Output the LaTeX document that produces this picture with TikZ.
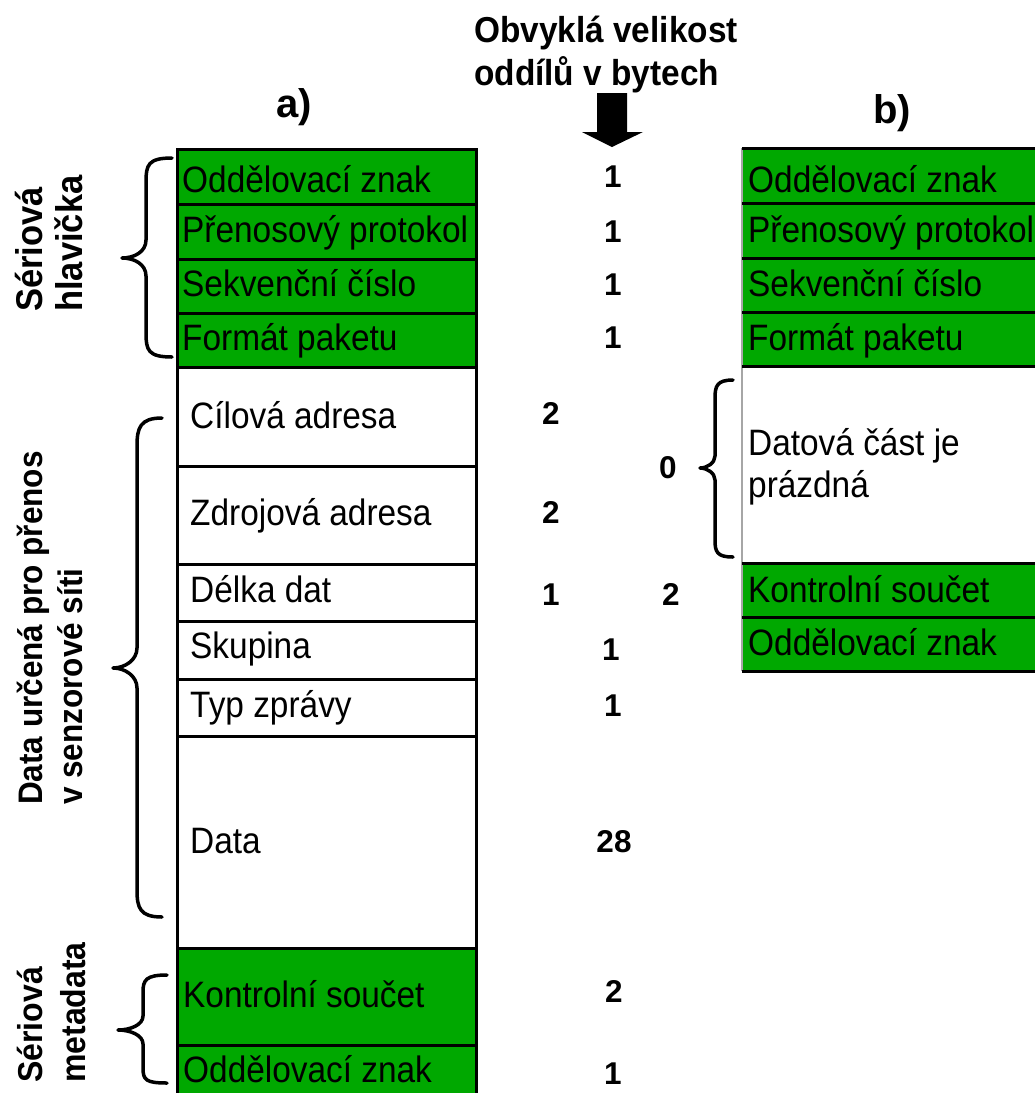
\documentclass[tikz,border=0pt]{standalone}
\usepackage{fontspec}
\setmainfont{Liberation Sans}
\definecolor{pktgreen}{RGB}{0,168,0}
\tikzset{
  fld/.style={draw=black, line width=3bp, minimum width=299bp, inner sep=0pt, anchor=north west},
  gfld/.style={fld, fill=pktgreen},
  wfld/.style={fld, fill=white},
  bfld/.style={draw=none, fill=pktgreen, minimum width=310bp, inner sep=0pt, anchor=north west},
  rule/.style={line width=3bp, black},
  lbl/.style={font=\fontsize{33.4bp}{42bp}\selectfont, inner sep=0pt, anchor=base west, yscale=1.1},
  num/.style={font=\bfseries\fontsize{31.5bp}{38bp}\selectfont, inner sep=0pt, anchor=base},
  ttl/.style={font=\bfseries\fontsize{33.4bp}{40bp}\selectfont, inner sep=0pt, anchor=base west, yscale=1.08},
  part/.style={font=\bfseries\fontsize{40bp}{48bp}\selectfont, inner sep=0pt, anchor=base},
  side/.style={font=\bfseries\fontsize{#1}{40bp}\selectfont, inner sep=0pt, anchor=base west, rotate=90, yscale=1.08},
  brc/.style={line width=3.5bp, line cap=round, line join=round}
}
\begin{document}
\begin{tikzpicture}[x=1bp, y=-1bp]
\useasboundingbox[fill=white] (0,0) rectangle (1035,1093);

% --- column a): packet layout ---
\node[gfld, minimum height=55bp] (a1) at (176,148) {};
\node[gfld, minimum height=55bp] (a2) at (176,203) {};
\node[gfld, minimum height=54bp] (a3) at (176,258) {};
\node[gfld, minimum height=54bp] (a4) at (176,312) {};
\node[wfld, minimum height=99bp] (a5) at (176,366) {};
\node[wfld, minimum height=98bp] (a6) at (176,465) {};
\node[wfld, minimum height=57bp] (a7) at (176,563) {};
\node[wfld, minimum height=58bp] (a8) at (176,620) {};
\node[wfld, minimum height=57bp] (a9) at (176,678) {};
\node[wfld, minimum height=212bp] (a10) at (176,735) {};
\node[gfld, minimum height=97bp] (a11) at (176,947) {};
\node[gfld, minimum height=70bp] (a12) at (176,1044) {};

\node[lbl] (ta1) at (182,192) {Oddělovací znak};
\node[lbl] (ta2) at (182,242) {Přenosový protokol};
\node[lbl] (ta3) at (182,296) {Sekvenční číslo};
\node[lbl] (ta4) at (182,350) {Formát paketu};
\node[lbl] (ta5) at (190,428) {Cílová adresa};
\node[lbl] (ta6) at (190,525) {Zdrojová adresa};
\node[lbl] (ta7) at (190,602) {Délka dat};
\node[lbl] (ta8) at (190,658) {Skupina};
\node[lbl] (ta9) at (190,717) {Typ zprávy};
\node[lbl] (ta10) at (190,853) {Data};
\node[lbl] (ta11) at (183,1007) {Kontrolní součet};
\node[lbl] (ta12) at (183,1082) {Oddělovací znak};

% --- column b): packet without data ---
\node[bfld, minimum height=55bp] (b1) at (742,148) {};
\node[bfld, minimum height=55bp] (b2) at (742,203) {};
\node[bfld, minimum height=54bp] (b3) at (742,258) {};
\node[bfld, minimum height=54bp] (b4) at (742,312) {};
\node[bfld, fill=white, minimum height=197bp] (b5) at (742,366) {};
\node[bfld, minimum height=54bp] (b6) at (742,563) {};
\node[bfld, minimum height=54bp] (b7) at (742,617) {};
\draw[line width=1.2bp, black!35] (b1.north west) -- (b7.south west);
\foreach \n in {b1,b2,b3,b4,b5,b6,b7} {
  \draw[rule] (\n.north west) -- (\n.north east);
}
\draw[rule] (b7.south west) -- (b7.south east);

\node[lbl] (tb1) at (748,192) {Oddělovací znak};
\node[lbl] (tb2) at (748,242) {Přenosový protokol};
\node[lbl] (tb3) at (748,296) {Sekvenční číslo};
\node[lbl] (tb4) at (748,350) {Formát paketu};
\node[lbl] (tb5) at (748,455) {Datová část je};
\node[lbl] (tb5b) at (748,497) {prázdná};
\node[lbl] (tb6) at (748,602) {Kontrolní součet};
\node[lbl] (tb7) at (748,655) {Oddělovací znak};

% --- headings ---
\node[ttl] (hd1) at (474,42) {Obvyklá velikost};
\node[ttl] (hd2) at (474,85) {oddílů v bytech};
\node[part] (pa) at (294,117) {a)};
\node[part] (pb) at (892,123) {b)};
\fill[black] (597,93) -- (627,93) -- (627,132) -- (643,132) -- (612,147)
  -- (582,132) -- (597,132) -- cycle;

% --- sizes in bytes ---
\node[num] (n1) at (613,187) {1};
\node[num] (n2) at (613,242) {1};
\node[num] (n3) at (613,295) {1};
\node[num] (n4) at (613,348) {1};
\node[num] (n5) at (551,424) {2};
\node[num] (n6) at (551,523) {2};
\node[num] (n7) at (551,605) {1};
\node[num] (n8) at (611,660) {1};
\node[num] (n9) at (613,716) {1};
\node[num] (n10) at (614,852) {28};
\node[num] (n11) at (614,1002) {2};
\node[num] (n12) at (613,1084) {1};
\node[num] (m0) at (668,478) {0};
\node[num] (m2) at (671,605) {2};

% --- side labels ---
\node[side=34.5bp] (s1) at (42,312) {Sériová};
\node[side=34.5bp] (s2) at (82,312) {hlavička};
\node[side=31.5bp] (s3) at (42,805) {Data určená pro přenos};
\node[side=31.5bp] (s4) at (82,805) {v senzorové síti};
\node[side=32bp] (s5) at (42,1083) {Sériová};
\node[side=32bp] (s6) at (85,1083) {metadata};

% --- braces ---
\draw[brc] (172,158) .. controls (148,158) and (146,165) .. (146,182) -- (146,240)
  .. controls (146,252) and (134,258) .. (122,258)
  .. controls (134,258) and (146,264) .. (146,276) -- (146,333)
  .. controls (146,350) and (148,357) .. (172,357);
\draw[brc] (162,418) .. controls (140,418) and (137,428) .. (137,446) -- (137,648)
  .. controls (137,660) and (125,668) .. (113,668)
  .. controls (125,668) and (137,676) .. (137,688) -- (137,890)
  .. controls (137,908) and (140,917) .. (162,917);
\draw[brc] (167,975) .. controls (146,975) and (143,980) .. (143,992) -- (143,1016)
  .. controls (143,1025) and (130,1030) .. (118,1030)
  .. controls (130,1030) and (143,1035) .. (143,1044) -- (143,1068)
  .. controls (143,1080) and (146,1083) .. (167,1083);
\draw[brc] (733,380) .. controls (717,380) and (715,386) .. (715,398) -- (715,456)
  .. controls (715,463) and (707,468) .. (700,468)
  .. controls (707,468) and (715,473) .. (715,480) -- (715,540)
  .. controls (715,552) and (717,557) .. (733,557);
\end{tikzpicture}
\end{document}
